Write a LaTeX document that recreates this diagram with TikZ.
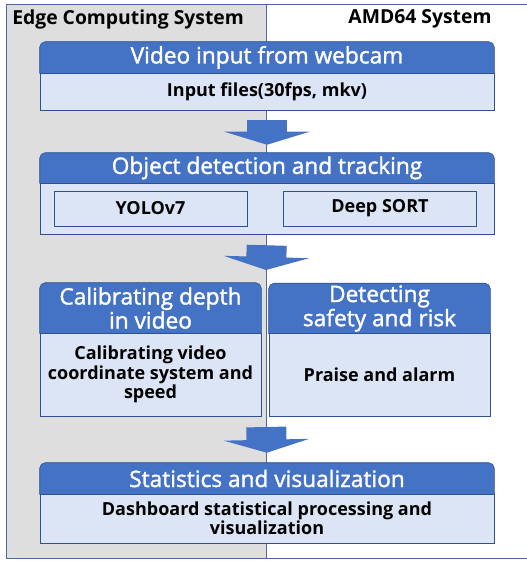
\documentclass[tikz,border=0pt]{standalone}
\usepackage{fontspec}
\setmainfont{Open Sans}
\newfontfamily\hdrfont[FakeBold=1.6]{Open Sans}
\usetikzlibrary{arrows.meta,positioning,backgrounds}
\definecolor{hdrblue}{RGB}{68,114,196}
\definecolor{edgeblue}{RGB}{47,82,143}
\definecolor{bodyblue}{RGB}{220,229,245}
\definecolor{panelgray}{RGB}{222,222,222}
\definecolor{framecol}{RGB}{78,104,158}
\tikzset{
  sysnode/.style={inner sep=0pt,font=\fontsize{14.5}{15}\selectfont\bfseries},
  hdrnode/.style={rectangle,inner sep=0pt,align=center,text=white,font=\hdrfont\fontsize{17}{15.75}\selectfont},
  bodynode/.style={rectangle,draw=edgeblue,fill=bodyblue,inner sep=0pt,align=center,font=\fontsize{13.5}{14.6}\selectfont\bfseries},
  subnode/.style={bodynode,minimum width=144.75pt,minimum height=26.25pt},
  hdrfill/.style={fill=hdrblue,draw=edgeblue},
  blockarr/.style={draw=hdrblue,line width=30pt,-{Triangle[length=9.75pt,width=63.75pt]}}
}

\begin{document}
\begin{tikzpicture}[x=0.75pt,y=-0.75pt]
  \useasboundingbox (0,0) rectangle (527,561);
  % system labels
  \node[sysnode,anchor=west] (edgelbl) at (12,19) {Edge Computing System};
  \node[sysnode] (amdlbl) at (420,19) {AMD64 System};

  % stage 1
  \node[hdrnode,minimum width=340.5pt,minimum height=23.25pt] (vidhead) at (267,57.5) {Video input from webcam};
  \node[bodynode,minimum width=340.5pt,minimum height=27.75pt] (vidbody) at (267,91.5) {Input files(30fps, mkv)};

  % stage 2
  \node[hdrnode,minimum width=340.5pt,minimum height=22.5pt] (objhead) at (267,168) {Object detection and tracking};
  \node[bodynode,minimum width=340.5pt,minimum height=38.25pt] (objbody) at (267,208.5) {};
  \node[subnode] (yolo) at (150.5,208.5) {YOLOv7};
  \node[subnode] (dsort) at (380,208.5) {Deep SORT};

  % stage 3
  \node[hdrnode,minimum width=165.75pt,minimum height=37.5pt] (calhead) at (150.5,308) {Calibrating depth\\in video};
  \node[bodynode,minimum width=165.75pt,minimum height=62.25pt] (calbody) at (150.5,374.5) {Calibrating video\\coordinate system and\\speed};
  \node[hdrnode,minimum width=165.75pt,minimum height=37.5pt] (dethead) at (379.5,308.5) {Detecting\\safety and risk};
  \node[bodynode,minimum width=165.75pt,minimum height=62.25pt] (detbody) at (379.5,374.5) {Praise and alarm};

  % stage 4
  \node[hdrnode,minimum width=340.5pt,minimum height=23.25pt] (stathead) at (267,478.5) {Statistics and visualization};
  \node[bodynode,minimum width=340.5pt,minimum height=36.75pt] (statbody) at (267,518.5) {Dashboard statistical processing and\\visualization};

  \coordinate (split) at (266,270);
  \coordinate (merge) at (266,416);

  \draw[blockarr,shorten <=7.5pt,shorten >=6pt] (vidbody.south) -- (objhead.north);
  \draw[blockarr,shorten <=8.25pt] (objbody.south) -- (split);
  \draw[blockarr,shorten <=8.25pt,shorten >=7.5pt] (merge) -- (stathead.north);

  \begin{scope}[on background layer]
    \fill[panelgray] (6,4) rectangle (266,558);
    \draw[framecol] (6,4) rectangle (531,558);
    \draw[framecol] (266,4) -- (266,558);
    \foreach \h in {vidhead,objhead,calhead,dethead,stathead}
      \draw[hdrfill] (\h.south west) [rounded corners=4pt] -- (\h.north west) -- (\h.north east) [sharp corners] -- (\h.south east) -- cycle;
  \end{scope}
\end{tikzpicture}
\end{document}
